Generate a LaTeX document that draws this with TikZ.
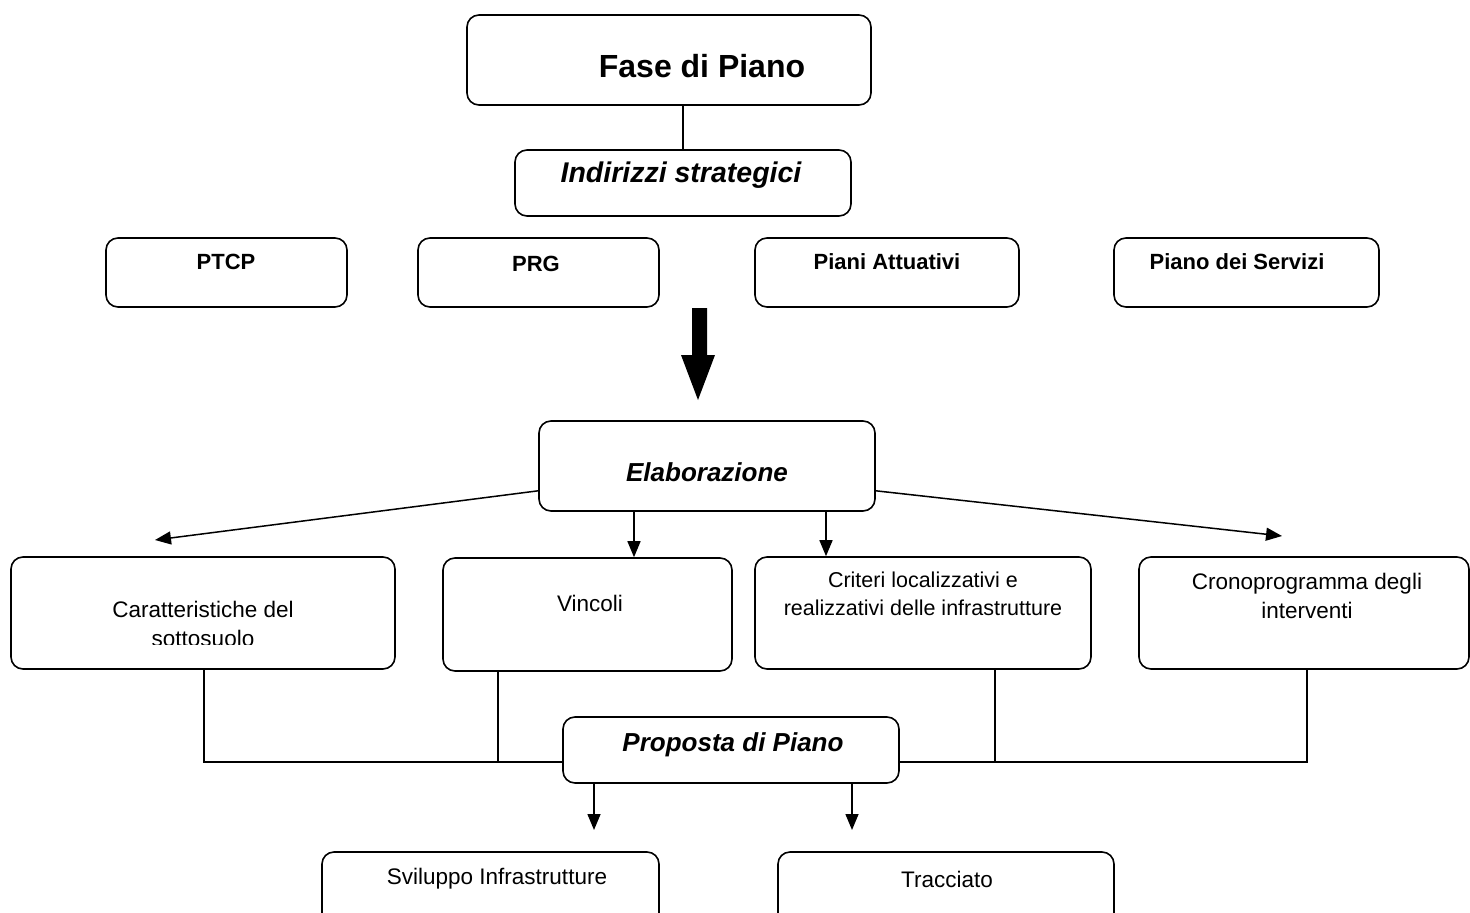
\documentclass[tikz,border=0pt]{standalone}
\usepackage{fontspec}
\setmainfont{Liberation Sans}
\usetikzlibrary{arrows.meta,calc}
\tikzset{
  box/.style={draw, rounded corners=12pt, line width=1.6pt, inner sep=0pt},
  conn/.style={line width=1.6pt},
  arr/.style={line width=1.5pt, -{Triangle[length=16pt,width=13pt]}},
  thin/.style={line width=1.2pt},
  big/.style={font=\fontsize{32}{38}\selectfont\bfseries},
  bi/.style={font=\fontsize{26}{31}\selectfont\bfseries\itshape},
  bl/.style={font=\fontsize{22}{26}\selectfont\bfseries},
  rg/.style={font=\fontsize{22.5}{29}\selectfont, align=center},
}
\begin{document}
\begin{tikzpicture}[x=1pt,y=-1pt]
\useasboundingbox (0,0) rectangle (1470,913);
\clip (0,0) rectangle (1470,913);

% top
\node[box, minimum width=404pt, minimum height=90pt] (fase) at (669,60) {};
\node[big] (fasetxt) at (702,66) {Fase di Piano};
\node[box, minimum width=336pt, minimum height=66pt] (ind) at (683,183) {};
\node[bi, font=\fontsize{28.5}{33}\selectfont\bfseries\itshape] (indtxt) at (681,175) {Indirizzi strategici};
\draw[thin] (fase.south -| 683,0) -- (ind.north -| 683,0);

% row of plans
\node[box, minimum width=241pt, minimum height=69pt] (ptcp) at (226.5,272.5) {};
\node[bl] (ptcptxt) at (226,262) {PTCP};
\node[box, minimum width=241pt, minimum height=69pt] (prg) at (538.5,272.5) {};
\node[bl] (prgtxt) at (536,264) {PRG};
\node[box, minimum width=264pt, minimum height=69pt] (pa) at (887,272.5) {};
\node[bl] (patxt) at (887,262) {Piani Attuativi};
\node[box, minimum width=265pt, minimum height=69pt] (ps) at (1246.5,272.5) {};
\node[bl] (pstxt) at (1237,262) {Piano dei Servizi};

% thick arrow
\fill (692,308) -- (707,308) -- (707,355) -- (715,355) -- (698,400) -- (681,355) -- (692,355) -- cycle;

% elaborazione
\node[box, minimum width=336pt, minimum height=90pt] (elab) at (707,466) {};
\node[bi] (elabtxt) at (707,472) {Elaborazione};

\node[box, minimum width=384pt, minimum height=112pt] (car) at (203,613) {};
\begin{scope}
\clip (11,557) rectangle (395,644);
\node[rg] (cartxt) at (203,624) {Caratteristiche del\\sottosuolo};
\end{scope}
\node[box, minimum width=289pt, minimum height=113pt] (vinc) at (587.5,614.5) {};
\node[rg] (vinctxt) at (590,603) {Vincoli};
\node[box, minimum width=336pt, minimum height=112pt] (crit) at (923,613) {};
\node[rg, font=\fontsize{21.5}{28}\selectfont] (crittxt) at (923,594) {Criteri localizzativi e\\realizzativi delle infrastrutture};
\node[box, minimum width=330pt, minimum height=112pt] (cron) at (1304,613) {};
\node[rg] (crontxt) at (1307,596) {Cronoprogramma degli\\interventi};

\coordinate (tl) at (155,540);
\coordinate (tr) at (1282,536);
\draw[arr] ($(elab.south west)+(0,-21)$) -- (tl);
\draw[arr] ($(elab.south east)+(0,-21)$) -- (tr);
\draw[arr] (elab.south -| 634,0) -- (vinc.north -| 634,0);
\draw[arr] (elab.south -| 826,0) -- (crit.north -| 826,0);

% proposta
\node[box, minimum width=336pt, minimum height=66pt] (prop) at (731,750) {};
\node[bi] (proptxt) at (733,745) {Proposta di Piano};
\coordinate (pl) at (563,762);
\coordinate (pr) at (899,762);
\coordinate (ja) at (498,762);
\coordinate (jb) at (995,762);
\draw[conn] (car.south -| 204,0) |- (pl);
\draw[thin] (vinc.south -| 498,0) -- (ja);
\draw[conn] (cron.south -| 1307,0) |- (pr);
\draw[thin] (crit.south -| 995,0) -- (jb);

% bottom
\node[box, minimum width=337pt, minimum height=90pt] (svi) at (490.5,897) {};
\node[rg] (svitxt) at (497,879) {Sviluppo Infrastrutture};
\node[box, minimum width=336pt, minimum height=90pt] (tra) at (946,897) {};
\node[rg] (tratxt) at (947,879) {Tracciato};
\coordinate (a1) at (594,830);
\coordinate (a2) at (852,830);
\draw[arr] (prop.south -| a1) -- (a1);
\draw[arr] (prop.south -| a2) -- (a2);
\end{tikzpicture}
\end{document}
